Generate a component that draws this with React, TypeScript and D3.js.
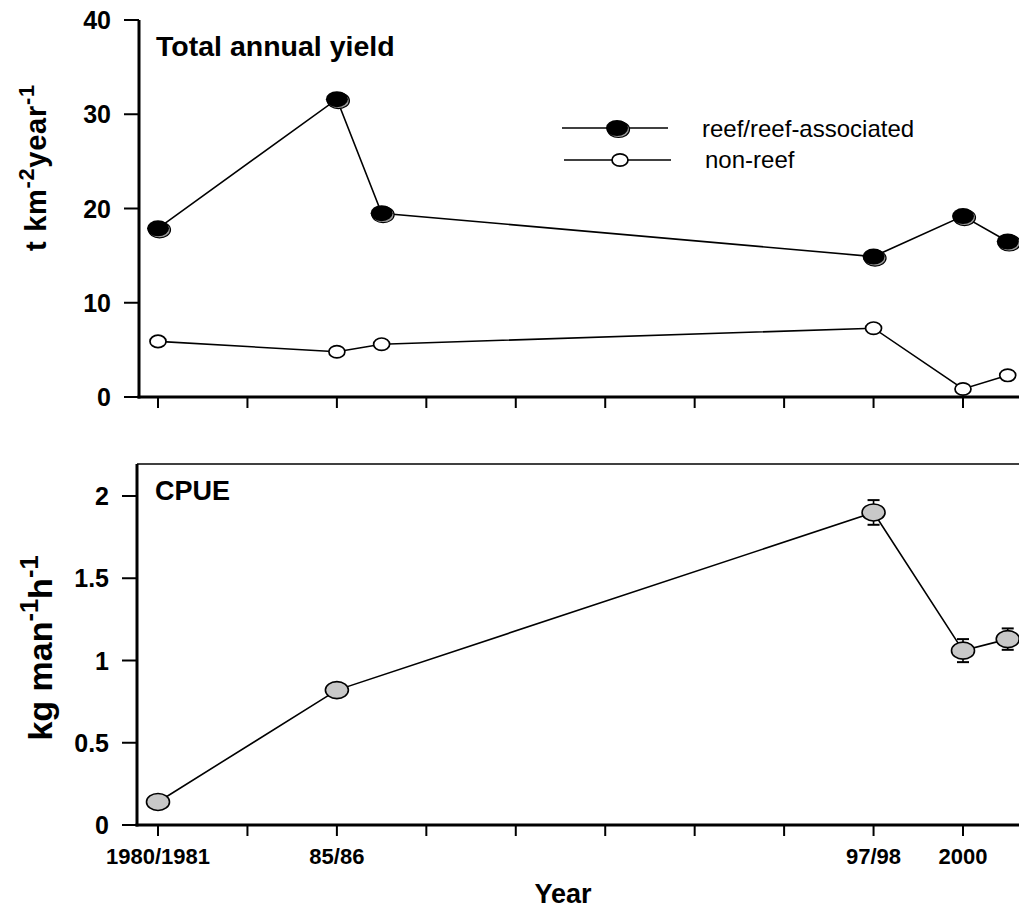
import React, { useRef, useEffect } from "react";
import * as d3 from "d3";

// x positions are survey slots (categorical, evenly spaced)
const periodPos = [0, 2, 2.5, 8, 9, 9.5];
const tickLabels: { pos: number; label: string }[] = [
  { pos: 0, label: "1980/1981" },
  { pos: 2, label: "85/86" },
  { pos: 8, label: "97/98" },
  { pos: 9, label: "2000" },
];
const reefYield = [17.9, 31.6, 19.5, 14.9, 19.2, 16.5];
const nonReefYield = [5.9, 4.8, 5.6, 7.3, 0.85, 2.3];
const cpuePos = [0, 2, 8, 9, 9.5];
const cpue = [0.14, 0.82, 1.9, 1.06, 1.13];
const cpueErr = [0, 0, 0.075, 0.07, 0.065];

const W = 1019;
const H = 909;
const FONT = "'Liberation Sans', Arial, sans-serif";

const App: React.FC = () => {
  const svgRef = useRef<SVGSVGElement>(null);

  useEffect(() => {
    document.body.style.margin = "0";
    if (!svgRef.current) return;
    const svg = d3.select(svgRef.current);
    svg.selectAll("*").remove();

    const x = d3.scaleLinear().domain([0, 9]).range([158, 963]);
    const yTop = d3.scaleLinear().domain([0, 40]).range([397, 20]);
    const yBot = d3.scaleLinear().domain([0, 2]).range([825, 496]);
    const xLeftTop = 139;
    const xLeftBot = 137;

    const drawPanel = (
      y: d3.ScaleLinear<number, number>,
      left: number,
      ticks: number[],
      fmt: (d: number) => string,
      extraTop: number
    ) => {
      const g = svg.append("g");
      const y0 = y.range()[0];
      // y ticks
      g.selectAll(".yt")
        .data(ticks)
        .join("line")
        .attr("x1", left - 15)
        .attr("x2", left)
        .attr("y1", (d) => y(d))
        .attr("y2", (d) => y(d))
        .attr("stroke", "#000")
        .attr("stroke-width", 2);
      g.selectAll(".yl")
        .data(ticks)
        .join("text")
        .attr("x", left - 28)
        .attr("y", (d) => y(d) + 9)
        .attr("text-anchor", "end")
        .style("font-family", FONT)
        .style("font-weight", "bold")
        .style("font-size", "25px")
        .text(fmt);
      // x ticks
      g.selectAll(".xt")
        .data(d3.range(0, 10))
        .join("line")
        .attr("x1", (d) => x(d))
        .attr("x2", (d) => x(d))
        .attr("y1", y0)
        .attr("y2", y0 + 11)
        .attr("stroke", "#000")
        .attr("stroke-width", 2);
      // axes
      g.append("line")
        .attr("x1", left)
        .attr("x2", left)
        .attr("y1", y.range()[1] - extraTop)
        .attr("y2", y0 + 1.5)
        .attr("stroke", "#000")
        .attr("stroke-width", 3);
      g.append("line")
        .attr("x1", left - 1.5)
        .attr("x2", W + 2)
        .attr("y1", y0)
        .attr("y2", y0)
        .attr("stroke", "#000")
        .attr("stroke-width", 3);
    };

    drawPanel(yTop, xLeftTop, [0, 10, 20, 30, 40], (d) => String(d), 0);
    drawPanel(yBot, xLeftBot, [0, 0.5, 1, 1.5, 2], (d) => String(d), 32);

    // bottom panel top border
    svg
      .append("line")
      .attr("x1", xLeftBot)
      .attr("x2", W + 2)
      .attr("y1", 464)
      .attr("y2", 464)
      .attr("stroke", "#000")
      .attr("stroke-width", 1.5);

    const line = d3
      .line<[number, number]>()
      .x((d) => d[0])
      .y((d) => d[1]);

    // top panel lines
    const reefPts = periodPos.map((p, i) => [x(p), yTop(reefYield[i])] as [number, number]);
    const nonPts = periodPos.map((p, i) => [x(p), yTop(nonReefYield[i])] as [number, number]);
    svg.append("path").attr("d", line(reefPts)).attr("fill", "none").attr("stroke", "#000").attr("stroke-width", 1.6);
    svg.append("path").attr("d", line(nonPts)).attr("fill", "none").attr("stroke", "#000").attr("stroke-width", 1.6);

    const reefMarker = (cx: number, cy: number) => {
      svg.append("ellipse").attr("cx", cx + 1.5).attr("cy", cy + 1.5).attr("rx", 11).attr("ry", 8)
        .attr("fill", "#999").attr("stroke", "#000").attr("stroke-width", 1.2);
      svg.append("ellipse").attr("cx", cx).attr("cy", cy).attr("rx", 11).attr("ry", 8).attr("fill", "#000");
    };
    const nonMarker = (cx: number, cy: number) => {
      svg.append("ellipse").attr("cx", cx).attr("cy", cy).attr("rx", 8).attr("ry", 6.2)
        .attr("fill", "#fff").attr("stroke", "#000").attr("stroke-width", 1.7);
    };
    reefPts.forEach(([cx, cy]) => reefMarker(cx, cy));
    nonPts.forEach(([cx, cy]) => nonMarker(cx, cy));

    // legend
    svg.append("line").attr("x1", 562).attr("x2", 668).attr("y1", 128).attr("y2", 128).attr("stroke", "#000").attr("stroke-width", 1.6);
    reefMarker(617, 128);
    svg.append("line").attr("x1", 564).attr("x2", 671).attr("y1", 160).attr("y2", 160).attr("stroke", "#000").attr("stroke-width", 1.6);
    nonMarker(620, 160);
    svg.append("text").attr("x", 702).attr("y", 137).style("font-family", FONT).style("font-size", "24px").text("reef/reef-associated");
    svg.append("text").attr("x", 705).attr("y", 168).style("font-family", FONT).style("font-size", "24px").text("non-reef");

    // CPUE
    const cpuePts = cpuePos.map((p, i) => [x(p), yBot(cpue[i])] as [number, number]);
    svg.append("path").attr("d", line(cpuePts)).attr("fill", "none").attr("stroke", "#000").attr("stroke-width", 1.6);
    cpuePts.forEach(([cx, cy], i) => {
      const e = cpueErr[i];
      if (e > 0) {
        const t = yBot(cpue[i] + e);
        const b = yBot(cpue[i] - e);
        svg.append("line").attr("x1", cx).attr("x2", cx).attr("y1", t).attr("y2", b).attr("stroke", "#000").attr("stroke-width", 1.6);
        [t, b].forEach((yy) =>
          svg.append("line").attr("x1", cx - 6).attr("x2", cx + 6).attr("y1", yy).attr("y2", yy).attr("stroke", "#000").attr("stroke-width", 2)
        );
      }
      svg.append("ellipse").attr("cx", cx).attr("cy", cy).attr("rx", 11.5).attr("ry", 8.5)
        .attr("fill", "#c8c8c8").attr("stroke", "#000").attr("stroke-width", 1.6);
    });

    // panel titles
    svg.append("text").attr("x", 156).attr("y", 56).style("font-family", FONT).style("font-weight", "bold").style("font-size", "28.5px").text("Total annual yield");
    svg.append("text").attr("x", 155).attr("y", 500).style("font-family", FONT).style("font-weight", "bold").style("font-size", "27px").text("CPUE");

    // x tick labels
    svg.selectAll(".xlab")
      .data(tickLabels)
      .join("text")
      .attr("x", (d) => x(d.pos))
      .attr("y", 864)
      .attr("text-anchor", "middle")
      .style("font-family", FONT)
      .style("font-weight", "bold")
      .style("font-size", "22px")
      .text((d) => d.label);

    svg.append("text").attr("x", 563).attr("y", 903).attr("text-anchor", "middle")
      .style("font-family", FONT).style("font-weight", "bold").style("font-size", "27px").text("Year");

    // y axis titles with superscripts
    const yTitle = (
      cx: number,
      cy: number,
      size: number,
      len: number | null,
      parts: { t: string; sup?: boolean }[]
    ) => {
      const t = svg.append("text")
        .attr("transform", `translate(${cx},${cy}) rotate(-90)`)
        .attr("text-anchor", "middle")
        .style("font-family", FONT)
        .style("font-weight", "bold")
        .style("font-size", `${size}px`);
      if (len) t.attr("textLength", len).attr("lengthAdjust", "spacing");
      let prevSup = false;
      parts.forEach((p) => {
        const ts = t.append("tspan").text(p.t);
        if (p.sup) {
          ts.attr("dy", -size * 0.4).style("font-size", `${size * 0.75}px`);
          prevSup = true;
        } else if (prevSup) {
          ts.attr("dy", size * 0.4);
          prevSup = false;
        }
      });
    };
    yTitle(46, 168, 29, 166, [{ t: "t km" }, { t: "-2", sup: true }, { t: "year" }, { t: "-1", sup: true }]);
    yTitle(52, 648, 34, null, [{ t: "kg man" }, { t: "-1", sup: true }, { t: "h" }, { t: "-1", sup: true }]);
  }, []);

  return (
    <svg ref={svgRef} width={W} height={H} style={{ display: "block", background: "#fff" }} />
  );
};

export default App;
